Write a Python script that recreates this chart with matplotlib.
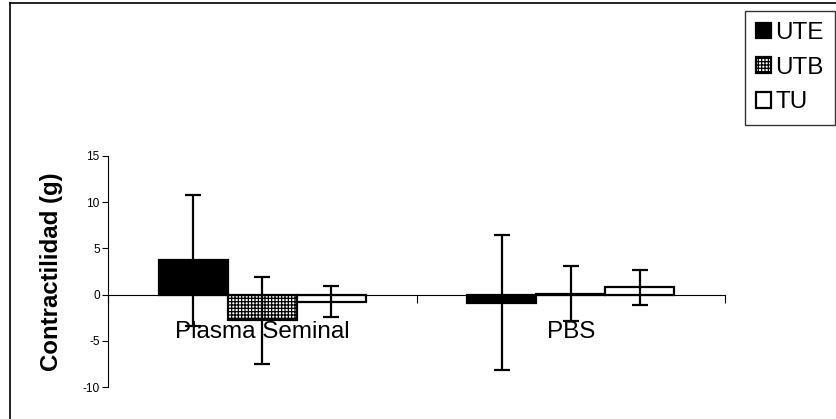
import matplotlib
matplotlib.use("Agg")
import matplotlib.pyplot as plt
import numpy as np
from matplotlib.patches import Patch
from matplotlib.lines import Line2D

plt.rcParams['font.family'] = ['Liberation Sans', 'DejaVu Sans']
plt.rcParams['hatch.linewidth'] = 0.9

# Data
categories = ["Plasma Seminal", "PBS"]
series = ["UTE", "UTB", "TU"]
ute_mean = [3.7, -0.9]
ute_err = [7.1, 7.3]
utb_mean = [-2.8, 0.1]
utb_err = [4.7, 2.95]
tu_mean = [-0.75, 0.8]
tu_err = [1.7, 1.9]
y_ticks = [-10, -5, 0, 5, 10, 15]
y_label = "Contractilidad (g)"

means = [ute_mean, utb_mean, tu_mean]
errs = [ute_err, utb_err, tu_err]
faces = ["black", "white", "white"]
hatches = [None, "+++++", None]

W, H, DPI = 836, 419, 100
fig = plt.figure(figsize=(W / DPI, H / DPI), dpi=DPI)
fig.patch.set_facecolor("white")

ax = fig.add_axes([108 / W, 1 - 387 / H, 617 / W, 231 / H])

x = np.arange(len(categories))
bw = 0.224
offsets = [-bw, 0.0, bw]

for m, e, fc, h, off, name in zip(means, errs, faces, hatches, offsets, series):
    ax.bar(x + off, m, width=bw, color=fc, edgecolor="black", linewidth=1.6,
           hatch=h, zorder=2, label=name)
    ax.errorbar(x + off, m, yerr=e, fmt="none", ecolor="black", elinewidth=1.6,
                capsize=5.8, capthick=1.6, zorder=3)

ax.set_xlim(-0.5, len(categories) - 0.5)
ax.set_ylim(-10, 15)
ax.set_yticks(y_ticks)
ax.set_yticklabels([str(t) for t in y_ticks])
ax.tick_params(axis="y", direction="out", length=4, width=0.8, pad=2,
               labelsize=8.6)

# Category boundaries as major ticks, names as minor ticks
ax.set_xticks(np.arange(-0.5, len(categories), 1.0))
ax.set_xticklabels([])
ax.set_xticks(x, minor=True)
ax.set_xticklabels(categories, minor=True)
ax.tick_params(axis="x", which="major", direction="out", length=5.5, width=0.8)
ax.tick_params(axis="x", which="minor", length=0, pad=19, labelsize=17.5)

for s in ["top", "right"]:
    ax.spines[s].set_visible(False)
ax.spines["bottom"].set_position(("data", 0))
ax.spines["bottom"].set_linewidth(0.8)
ax.spines["left"].set_linewidth(0.8)
ax.patch.set_alpha(0)

ax.set_ylabel(y_label, fontsize=17.3, fontweight="bold")
ax.yaxis.set_label_coords(-0.073, 0.5)

handles = [Patch(facecolor=fc, edgecolor="black", linewidth=1.6, hatch=h)
           for fc, h in zip(faces, hatches)]
leg = fig.legend(handles, series, loc="upper right",
                 bbox_to_anchor=(835 / W, 1 - 11 / H), fontsize=17.5,
                 frameon=True, fancybox=False, borderpad=0.46,
                 handlelength=0.62, handleheight=0.62, handletextpad=0.18,
                 labelspacing=0.52, borderaxespad=0)
leg.get_frame().set_edgecolor("black")
leg.get_frame().set_linewidth(1.0)

# Outer chart frame
fig.add_artist(Line2D([10 / W, 10 / W], [0, 1 - 3 / H], color="black", lw=1.2,
                      transform=fig.transFigure))
fig.add_artist(Line2D([10 / W, 1], [1 - 3 / H, 1 - 3 / H], color="black", lw=1.2,
                      transform=fig.transFigure))

fig.savefig("out.png", dpi=DPI)
